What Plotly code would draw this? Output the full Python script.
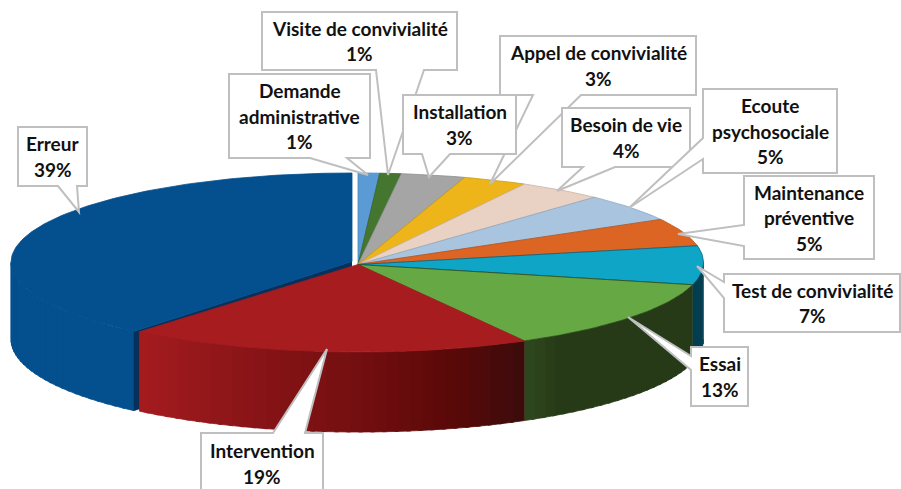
import numpy as np
import plotly.graph_objects as go

# ---- data, clockwise from 12 o'clock ----
categories = ["Demande\nadministrative", "Visite de convivialité", "Installation",
              "Appel de convivialité", "Besoin de vie", "Ecoute\npsychosociale",
              "Maintenance\npréventive", "Test de convivialité", "Essai",
              "Intervention", "Erreur"]
values = [1, 1, 3, 3, 4, 5, 5, 7, 13, 18.9, 39.1]

# ---- style ----
top_colors = ["#5b9bd5", "#44762f", "#a5a5a5", "#edb519", "#e9d2c4", "#a9c4de",
              "#dd6523", "#0fa5c7", "#66a944", "#a61c1f", "#044f8e"]
edge_colors = ["#4a86bd", "#3a6528", "#8f8f8f", "#c99a12", "#c9b4a6", "#90a8c0",
               "#b5521b", "#0a5f75", "#2b4a1c", "#a61c1f", "#044f8e"]
wall_stops = {
    7: [(0, "#023e50"), (1, "#023e50")],
    8: [(0, "#263a18"), (0.85, "#263a18"), (1, "#30491f")],
    9: [(0, "#3c0c0c"), (0.2, "#5c0909"), (0.45, "#761011"), (0.75, "#8f1619"), (1, "#a61c1f")],
    10: [(0, "#044f8e"), (0.9, "#044f8e"), (1, "#064c89")],
}
wall_order = [10, 7, 8, 9]
CUT_COLOR = "#07305a"
BORDER = "#bfbfbf"

# ---- pie geometry (pixel space of the axes) ----
CX, CY_TOP, RX, RY_TOP = 358.0, 262.5, 345.5, 89.5
CY_BOT, RY_BOT = 339.5, 92.5
APEX_Y = 264.5
EXPLODE_SHIFT, EXPLODE_RX, EXPLODE_SKEW = 6.0, 341.0, np.radians(0.5)
EXPLODE_APEX_Y = 261.5
EXPLODED = 10

# ---- callouts: (index, x0, y0, x1, y1, side, base a, base b, tip x, tip y) ----
callouts = [
    (1, 262, 12, 457, 70, "b", 376, 424, 388, 175),
    (3, 500, 36, 696, 95, "b", 533, 581, 490, 184),
    (0, 229, 74, 370, 158, "b", 310, 347, 368, 175),
    (2, 403, 95, 516, 154, "b", 422, 450, 429, 177),
    (4, 562, 108, 690, 167, "b", 583, 615, 557, 191),
    (5, 703, 89, 837, 173, "l", 138, 159, 629, 208),
    (6, 744, 176, 874, 259, "l", 225, 246, 678, 234),
    (7, 724, 274, 900, 332, "l", 282, 298, 697, 266),
    (8, 691, 347, 748, 406, "l", 356, 370, 628, 317),
    (9, 201, 433, 323, 494, "t", 273, 305, 327, 349),
    (10, 18, 127, 87, 186, "b", 58, 77, 79, 212),
]
LINE_STEP = 25.5


def hex2rgb(c):
    return np.array([int(c[i:i + 2], 16) for i in (1, 3, 5)], float)


def mix(stops, f):
    for (a, ca), (b, cb) in zip(stops, stops[1:]):
        if f <= b:
            k = 0 if b == a else (f - a) / (b - a)
            r = hex2rgb(ca) * (1 - k) + hex2rgb(cb) * k
            return "rgb(%d,%d,%d)" % tuple(r)
    return stops[-1][1]


def top_pt(t, cx=CX, rx=RX):
    return cx + rx * np.sin(t), CY_TOP - RY_TOP * np.cos(t)


def bot_pt(t, cx=CX, rx=RX):
    return cx + rx * np.sin(t), CY_BOT - RY_BOT * np.cos(t)


def poly(fig, x, y, color, line=None, w=0.6):
    fig.add_trace(go.Scatter(x=list(x), y=list(y), mode="lines", fill="toself",
                             fillcolor=color, line=dict(color=line or color, width=w),
                             hoverinfo="skip", showlegend=False))


fig = go.Figure()
share = np.array(values, float) / sum(values)
edges = np.concatenate([[0], np.cumsum(share)]) * 2 * np.pi
RIGHT, LEFT = np.pi / 2, 3 * np.pi / 2


def geom(i):
    return (CX - EXPLODE_SHIFT, EXPLODE_RX) if i == EXPLODED else (CX, RX)


def start(i):
    return edges[i] + (EXPLODE_SKEW if i == EXPLODED else 0)


# walls: exploded slice first, then the others
for i in wall_order:
    a, b = max(start(i), RIGHT), min(edges[i + 1], LEFT)
    cx, rx = geom(i)
    n = max(2, int(np.degrees(b - a) / 2.0))
    ts = np.linspace(a, b, n + 1)
    for k in range(n):
        tt = np.linspace(ts[k], min(ts[k + 1] + 0.012, b), 4)
        xt, yt = top_pt(tt, cx, rx)
        xb, yb = bot_pt(tt, cx, rx)
        poly(fig, np.r_[xt, xb[::-1]], np.r_[yt, yb[::-1]], mix(wall_stops[i], (k + 0.5) / n), w=0.8)
    if i == EXPLODED:
        # radial cut face of the pulled-out slice
        xe, ye = top_pt(start(i), cx, rx)
        xl, yl = bot_pt(start(i), cx, rx)
        poly(fig, [cx, xe, xl, cx], [EXPLODE_APEX_Y, ye, yl, EXPLODE_APEX_Y + CY_BOT - CY_TOP], CUT_COLOR)

# top faces
for i in [EXPLODED] + list(range(EXPLODED)):
    cx, rx = geom(i)
    ay = EXPLODE_APEX_Y if i == EXPLODED else APEX_Y
    tt = np.linspace(start(i), edges[i + 1], max(6, int(np.degrees(edges[i + 1] - edges[i]))))
    xa, ya = top_pt(tt, cx, rx)
    poly(fig, np.r_[cx, xa, cx], np.r_[ay, ya, ay], top_colors[i], line=edge_colors[i], w=0.8)

# callouts and text
for idx, x0, y0, x1, y1, side, a, b, tx, ty in callouts:
    if side == "b":
        pts = [(x0, y0), (x1, y0), (x1, y1), (b, y1), (tx, ty), (a, y1), (x0, y1)]
    elif side == "t":
        pts = [(x0, y0), (a, y0), (tx, ty), (b, y0), (x1, y0), (x1, y1), (x0, y1)]
    else:
        pts = [(x0, y0), (x1, y0), (x1, y1), (x0, y1), (x0, b), (tx, ty), (x0, a)]
    path = "M " + " L ".join(f"{p[0]},{p[1]}" for p in pts) + " Z"
    fig.add_shape(type="path", path=path, xref="x", yref="y", fillcolor="white",
                  line=dict(color=BORDER, width=2), layer="above")

    lines = categories[idx].split("\n") + [f"{values[idx]:.0f}%"]
    xc, yc = (x0 + x1) / 2, (y0 + y1) / 2
    for j, s in enumerate(lines):
        fig.add_annotation(x=xc, y=yc + (j - (len(lines) - 1) / 2) * LINE_STEP, text=s,
                           xref="x", yref="y", showarrow=False,
                           font=dict(family="Lato", size=19, color="#111111", weight=700))

fig.update_layout(
    width=901, height=489, margin=dict(l=0, r=0, t=0, b=0),
    paper_bgcolor="white", plot_bgcolor="white", showlegend=False,
    xaxis=dict(range=[0, 901], visible=False, fixedrange=True),
    yaxis=dict(range=[489, 0], visible=False, fixedrange=True),
)
fig.write_html("out.html", config={"displayModeBar": False},
               post_script="document.body.style.margin='0';document.body.style.overflow='hidden';")
